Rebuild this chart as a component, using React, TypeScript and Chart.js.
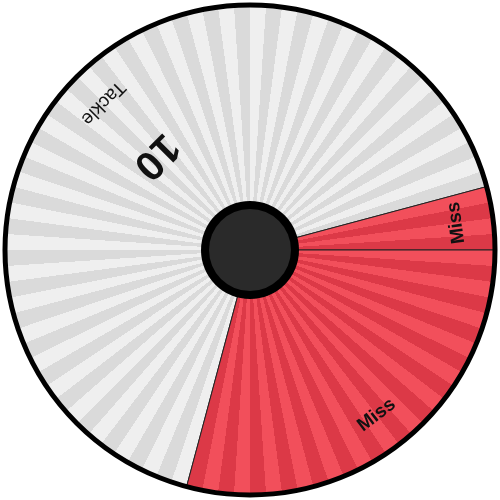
import React, { useEffect, useRef } from "react";
import { Chart, ArcElement, PieController } from "chart.js";

Chart.register(ArcElement, PieController);

// Wheel segments (clockwise from the start angle)
const segmentLabels = ["Tackle", "Miss", "Miss"];
const segmentPoints = ["10", "", ""];
const segmentSizes = [240, 15, 105]; // angular size in degrees
const lightColors = ["#efefef", "#f24f5b", "#f24f5b"];
const darkColors = ["#dadada", "#dc3947", "#dc3947"];
const STRIPE_COUNT = 96;
const WHEEL_ROTATION = 195; // Chart.js rotation (0 = top)

const gradientCache: Record<string, CanvasGradient> = {};

function stripeFill(ctx: any) {
  const chart = ctx.chart;
  const i = ctx.dataIndex ?? 0;
  const area = chart.chartArea;
  if (!area) return lightColors[i];
  const cx = (area.left + area.right) / 2;
  const cy = (area.top + area.bottom) / 2;
  const key = `${i}-${cx}-${cy}`;
  if (gradientCache[key]) return gradientCache[key];
  const c2d: CanvasRenderingContext2D = chart.ctx;
  const g = (c2d as any).createConicGradient(0, cx, cy);
  for (let k = 0; k < STRIPE_COUNT; k++) {
    const col = k % 2 === 0 ? lightColors[i] : darkColors[i];
    g.addColorStop(k / STRIPE_COUNT, col);
    g.addColorStop((k + 1) / STRIPE_COUNT, col);
  }
  gradientCache[key] = g;
  return g;
}

const wheelDecor = {
  id: "wheelDecor",
  afterDatasetsDraw(chart: any) {
    const ctx: CanvasRenderingContext2D = chart.ctx;
    const meta = chart.getDatasetMeta(0);
    const arcs = meta.data;
    if (!arcs.length) return;
    const cx = arcs[0].x;
    const cy = arcs[0].y;
    const R = arcs[0].outerRadius;

    // labels
    arcs.forEach((arc: any, i: number) => {
      const mid = (arc.startAngle + arc.endAngle) / 2;
      const rot = mid - Math.PI / 2;
      ctx.save();
      ctx.fillStyle = "#111";
      ctx.textAlign = "center";
      ctx.textBaseline = "middle";
      const lx = cx + Math.cos(mid) * (R - 37);
      const ly = cy + Math.sin(mid) * (R - 37);
      ctx.translate(lx, ly);
      ctx.rotate(rot);
      const isMiss = segmentPoints[i] === "";
      ctx.font = isMiss
        ? "bold 19px 'Liberation Sans', Arial, sans-serif"
        : "19px 'Liberation Sans', Arial, sans-serif";
      ctx.fillText(segmentLabels[i], 0, 0);
      ctx.restore();
      if (segmentPoints[i]) {
        ctx.save();
        ctx.fillStyle = "#111";
        ctx.textAlign = "center";
        ctx.textBaseline = "middle";
        const px = cx + Math.cos(mid) * (R - 112);
        const py = cy + Math.sin(mid) * (R - 112);
        ctx.translate(px, py);
        ctx.rotate(rot);
        ctx.font = "bold 41px 'Liberation Sans', Arial, sans-serif";
        ctx.fillText(segmentPoints[i], 0, 0);
        ctx.restore();
      }
    });

    // outer ring
    ctx.save();
    ctx.beginPath();
    ctx.arc(cx, cy, R, 0, Math.PI * 2);
    ctx.lineWidth = 5;
    ctx.strokeStyle = "#000";
    ctx.stroke();

    // hub
    ctx.beginPath();
    ctx.arc(cx, cy, 49, 0, Math.PI * 2);
    ctx.fillStyle = "#000";
    ctx.fill();
    ctx.beginPath();
    ctx.arc(cx, cy, 41, 0, Math.PI * 2);
    ctx.fillStyle = "#2a2a2a";
    ctx.fill();
    ctx.restore();
  },
};

export default function App() {
  const ref = useRef<HTMLCanvasElement>(null);
  useEffect(() => {
    if (!ref.current) return;
    const chart = new Chart(ref.current, {
      type: "pie",
      data: {
        labels: segmentLabels,
        datasets: [
          {
            data: segmentSizes,
            backgroundColor: stripeFill as any,
            borderColor: "#222",
            borderWidth: 1,
          },
        ],
      },
      options: {
        responsive: false,
        animation: false,
        rotation: WHEEL_ROTATION,
        radius: 245,
        layout: { padding: 0 },
        plugins: {
          legend: { display: false },
          tooltip: { enabled: false },
        },
        events: [],
      } as any,
      plugins: [wheelDecor],
    });
    return () => chart.destroy();
  }, []);
  return (
    <div style={{ position: "absolute", left: 0, top: 0, width: 500, height: 500 }}>
      <canvas ref={ref} width={500} height={500} style={{ display: "block" }} />
    </div>
  );
}
